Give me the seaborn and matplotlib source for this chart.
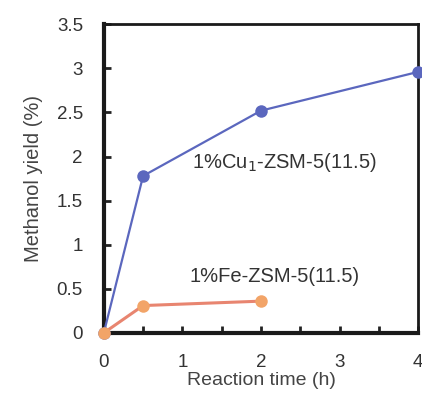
import numpy as np
import pandas as pd
import seaborn as sns
import matplotlib.pyplot as plt

# values
cu_time = [0, 0.5, 2, 4]
cu_yield = [0, 1.78, 2.52, 2.96]
fe_time = [0, 0.5, 2]
fe_yield = [0, 0.31, 0.36]
x_ticks = [0, 1, 2, 3, 4]
y_ticks = [0, 0.5, 1, 1.5, 2, 2.5, 3, 3.5]

cu_color = '#5b67be'
fe_line = '#e88570'
fe_marker = '#f2a468'

sns.set_style('ticks')
plt.rcParams['font.family'] = ['Liberation Sans', 'DejaVu Sans']

fig = plt.figure(figsize=(4.22, 4.04), dpi=100)
ax = fig.add_axes([0.246, 0.176, 0.745, 0.764])

cu_df = pd.DataFrame({'t': cu_time, 'y': cu_yield})
fe_df = pd.DataFrame({'t': fe_time, 'y': fe_yield})

sns.lineplot(data=cu_df, x='t', y='y', ax=ax, color=cu_color, lw=1.6,
             marker='o', markersize=9, markeredgewidth=0, clip_on=False, zorder=3)
sns.lineplot(data=fe_df, x='t', y='y', ax=ax, color=fe_line, lw=2.2,
             marker='o', markersize=9, markerfacecolor=fe_marker,
             markeredgewidth=0, clip_on=False, zorder=4)

ax.set_xlim(0, 4)
ax.set_ylim(0, 3.5)
ax.set_xticks(x_ticks)
ax.set_xticks([0.5, 1.5, 2.5, 3.5], minor=True)
ax.set_yticks(y_ticks)
ax.set_yticklabels(['0', '0.5', '1', '1.5', '2', '2.5', '3', '3.5'])
ax.tick_params(axis='both', which='both', direction='in', labelsize=13.5,
               labelcolor='#333333', width=2, color='#222222')
ax.tick_params(axis='both', which='major', length=5)
ax.tick_params(axis='y', which='major', pad=15)
ax.tick_params(axis='x', which='major', pad=15)
ax.tick_params(axis='x', which='minor', length=5)

for side in ['left', 'bottom']:
    ax.spines[side].set_linewidth(3)
    ax.spines[side].set_color('#1a1a1a')
for side in ['top', 'right']:
    ax.spines[side].set_visible(True)
    ax.spines[side].set_linewidth(2)
    ax.spines[side].set_color('#1a1a1a')

ax.set_xlabel('Reaction time (h)', fontsize=14, color='#444444', labelpad=1)
ax.set_ylabel('Methanol yield (%)', fontsize=14.5, color='#444444', labelpad=10)

ax.text(1.12, 1.93, '1%Cu$_1$-ZSM-5(11.5)', fontsize=14.5, color='#333333',
        va='center')
ax.text(1.09, 0.64, '1%Fe-ZSM-5(11.5)', fontsize=14.5, color='#333333',
        va='center')

fig.savefig('out.png', dpi=100)
